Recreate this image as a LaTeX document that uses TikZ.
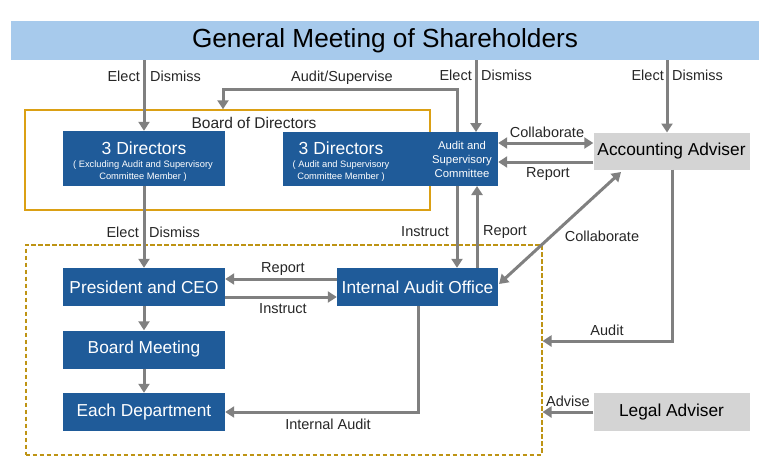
\documentclass[tikz,border=0pt]{standalone}
\usepackage{fontspec}
\setmainfont{Liberation Sans}
\usetikzlibrary{arrows.meta}
\definecolor{hdrblue}{RGB}{167,202,236}
\definecolor{boxblue}{RGB}{31,91,153}
\definecolor{boxgray}{RGB}{212,212,212}
\definecolor{arrgray}{RGB}{128,128,128}
\definecolor{goldline}{RGB}{219,160,20}
\definecolor{golddash}{RGB}{190,148,20}
\tikzset{
  bluebox/.style={fill=boxblue, text=white, inner sep=0pt, font=\fontsize{17.3}{19}\selectfont},
  graybox/.style={fill=boxgray, text=black, inner sep=0pt, font=\fontsize{17.3}{19}\selectfont},
  conn/.style={draw=arrgray, line width=3pt, -{Triangle[width=11pt,length=9pt]}},
  dconn/.style={draw=arrgray, line width=3pt, {Triangle[width=11pt,length=9pt]}-{Triangle[width=11pt,length=9pt]}},
  lbl/.style={inner sep=0pt, text=black!85, font=\fontsize{14.5}{16}\selectfont},
}
\begin{document}
\begin{tikzpicture}[x=1pt,y=-1pt]
\useasboundingbox (0,0) rectangle (770,475);
% header
\node[fill=hdrblue, minimum width=748pt, minimum height=39pt, inner sep=0pt, font=\fontsize{26.2}{28}\selectfont] (hdr) at (385,40.5) {General Meeting of Shareholders};
% board of directors frame
\node[draw=goldline, line width=1.5pt, minimum width=405pt, minimum height=100pt, inner sep=0pt] (bod) at (227.5,160) {};
\node[lbl, font=\fontsize{15.5}{17}\selectfont] (bodl) at (254,123) {Board of Directors};
% lower dashed frame
\node[draw=golddash, line width=2pt, dash pattern=on 4.5pt off 2.5pt, minimum width=516pt, minimum height=210pt, inner sep=0pt] (exec) at (283.5,349.5) {};
% boxes
\node[bluebox, minimum width=162pt, minimum height=55pt] (d1) at (144,158.5) {};
\node[white, inner sep=0pt, font=\fontsize{17.5}{19}\selectfont] (d1t) at (144,148) {3 Directors};
\node[white, inner sep=0pt, align=center, font=\fontsize{9.3}{11.5}\selectfont] (d1s) at (143,171) {( Excluding Audit and Supervisory\\Committee Member )};
\node[bluebox, minimum width=215pt, minimum height=54pt] (d2) at (390.5,159) {};
\node[white, inner sep=0pt, font=\fontsize{17.5}{19}\selectfont] (d2t) at (341,148) {3 Directors};
\node[white, inner sep=0pt, align=center, font=\fontsize{9.3}{11.5}\selectfont] (d2s) at (341,171) {( Audit and Supervisory\\Committee Member )};
\node[white, inner sep=0pt, align=center, font=\fontsize{11.3}{14}\selectfont] (asc) at (462,159) {Audit and\\Supervisory\\Committee};
\node[graybox, minimum width=156pt, minimum height=37pt] (acc) at (671.5,151) {Accounting Adviser};
\node[bluebox, minimum width=162pt, minimum height=38pt] (ceo) at (144,287) {President and CEO};
\node[bluebox, minimum width=162pt, minimum height=38pt] (bm) at (144,349.5) {Board Meeting};
\node[bluebox, minimum width=162pt, minimum height=38pt] (ed) at (144,412) {Each Department};
\node[bluebox, minimum width=161pt, minimum height=38pt] (iao) at (417.5,287) {Internal Audit Office};
\node[graybox, minimum width=156pt, minimum height=38pt] (legal) at (671.5,412) {Legal Adviser};
% coordinates
\coordinate (c1) at (457,89);
\coordinate (c2) at (223,89);
\coordinate (c3) at (672,341);
\coordinate (c4) at (418,412);
% shareholders elect/dismiss
\draw[conn] (hdr.south -| d1) -- (d1.north);
\draw[conn] (hdr.south -| 476,0) -- (476,132);
\draw[conn] (hdr.south -| 667,0) -- (667,132.5);
\node[lbl, anchor=east] (e1) at (140,76) {Elect};
\node[lbl, anchor=west] (m1) at (150,76) {Dismiss};
\node[lbl, anchor=east] (e2) at (472,75) {Elect};
\node[lbl, anchor=west] (m2) at (481,75) {Dismiss};
\node[lbl, anchor=east] (e3) at (664,75) {Elect};
\node[lbl, anchor=west] (m3) at (672,75) {Dismiss};
% audit/supervise
\draw[conn] (457,132) -- (c1) -- (c2) -- (bod.north -| c2);
\node[lbl] (as) at (342,78) {Audit/Supervise};
% collaborate / report with accounting adviser
\draw[dconn] (d2.east |- 0,143) -- (acc.west |- 0,143);
\node[lbl] (col1) at (547,132) {Collaborate};
\draw[conn] (acc.west |- 0,162) -- (d2.east |- 0,162);
\node[lbl] (rep1) at (548,174) {Report};
% elect/dismiss CEO
\draw[conn] (d1.south) -- (ceo.north);
\node[lbl, anchor=east] (e4) at (139,232) {Elect};
\node[lbl, anchor=west] (m4) at (149,232) {Dismiss};
% instruct / report between committee and IAO
\draw[conn] (457,186) -- (iao.north -| 457,0);
\node[lbl] (ins1) at (425,232) {Instruct};
\draw[conn] (iao.north -| 477,0) -- (477,186);
\node[lbl] (rep2) at (505,232) {Report};
% CEO <-> IAO
\draw[conn] (iao.west |- 0,279) -- (ceo.east |- 0,279);
\node[lbl] (rep3) at (283,269) {Report};
\draw[conn] (ceo.east |- 0,297) -- (iao.west |- 0,297);
\node[lbl] (ins2) at (283,309) {Instruct};
% chain
\draw[conn] (ceo.south) -- (bm.north);
\draw[conn] (bm.south) -- (ed.north);
% internal audit
\draw[conn] (iao.south -| c4) -- (c4) -- (ed.east);
\node[lbl] (ia) at (328,424) {Internal Audit};
% collaborate diagonal
\draw[dconn] (499,284) -- (621,172);
\node[lbl] (col2) at (602,236) {Collaborate};
% audit from accounting adviser
\draw[conn] (acc.south -| c3) -- (c3) -- (exec.east |- c3);
\node[lbl] (au) at (607,330) {Audit};
% advise
\draw[conn] (legal.west) -- (exec.east |- legal.west);
\node[lbl] (adv) at (568,401) {Advise};
\end{tikzpicture}
\end{document}
